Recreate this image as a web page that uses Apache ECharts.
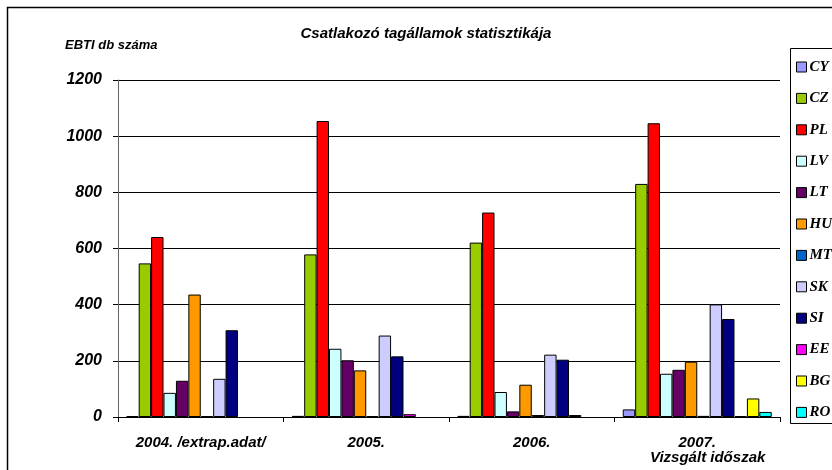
<!DOCTYPE html>
<html><head><meta charset="utf-8">
<script src="https://cdn.jsdelivr.net/npm/echarts@6/dist/echarts.min.js"></script>
<style>html,body{margin:0;padding:0;background:#fff}#c{width:832px;height:470px}</style>
</head><body><div id="c"></div>
<script>
const categories = ['2004. /extrap.adat/', '2005.', '2006.', '2007.'];
const seriesNames = ['CY','CZ','PL','LV','LT','HU','MT','SK','SI','EE','BG','RO'];
const CY = [3, 4, 4, 27];
const CZ = [547, 579, 621, 830];
const PL = [641, 1054, 728, 1046];
const LV = [86, 243, 89, 154];
const LT = [129, 202, 20, 168];
const HU = [436, 166, 115, 197];
const MT = [3, 3, 7, 4];
const SK = [136, 290, 222, 401];
const SI = [309, 216, 204, 349];
const EE = [0, 10, 7, 3];
const BG = [0, 0, 0, 66];
const RO = [0, 0, 0, 18];
const yTicks = [0, 200, 400, 600, 800, 1000, 1200];
const colors = ['#9999FF','#99CC00','#FF0000','#CCFFFF','#660066','#FF9900','#0066CC','#CCCCFF','#000080','#FF00FF','#FFFF00','#00FFFF'];
const values = [CY, CZ, PL, LV, LT, HU, MT, SK, SI, EE, BG, RO];

const sans = 'Liberation Sans';
const chart = echarts.init(document.getElementById('c'), null, {renderer: 'canvas'});
chart.setOption({
  animation: false,
  backgroundColor: '#fff',
  title: {
    text: 'Csatlakozó tagállamok statisztikája',
    left: 421, top: 21, textAlign: 'center',
    textStyle: {fontFamily: sans, fontSize: 15, fontWeight: 'bold', fontStyle: 'italic', color: '#000'}
  },
  legend: {
    orient: 'vertical', left: 791, top: 54,
    itemWidth: 10, itemHeight: 10, itemGap: 15.4,
    icon: 'rect',
    itemStyle: {borderColor: '#000', borderWidth: 1},
    textStyle: {fontFamily: 'Liberation Serif', fontSize: 15, fontWeight: 'bold', fontStyle: 'italic', color: '#000', lineHeight: 16, padding: [0, 0, 0, -2]},
    data: seriesNames
  },
  grid: {left: 118, right: 52, top: 80, bottom: 53, containLabel: false},
  xAxis: {
    type: 'category', data: categories,
    axisLine: {lineStyle: {color: '#000', width: 1}},
    axisTick: {show: true, length: 5, lineStyle: {color: '#000'}},
    axisLabel: {interval: 0, margin: 18, fontFamily: sans, fontSize: 15, fontWeight: 'bold', fontStyle: 'italic', color: '#000'}
  },
  yAxis: {
    type: 'value', min: yTicks[0], max: yTicks[yTicks.length - 1], interval: 200,
    name: 'EBTI db száma', nameLocation: 'end', nameGap: 0,
    nameTextStyle: {fontFamily: sans, fontSize: 13, fontWeight: 'bold', fontStyle: 'italic', color: '#000', align: 'left', padding: [0, 0, 28, -53]},
    axisLine: {show: true, lineStyle: {color: '#666', width: 1}},
    axisTick: {show: true, length: 5, lineStyle: {color: '#000'}},
    axisLabel: {margin: 16, fontFamily: sans, fontSize: 16, fontWeight: 'bold', fontStyle: 'italic', color: '#000', formatter: v => String(v)},
    splitLine: {show: true, lineStyle: {color: '#000', width: 1}}
  },
  graphic: [
    {type: 'rect', silent: true, shape: {x: 7.5, y: 7.5, width: 900, height: 500}, style: {fill: 'none', stroke: '#000', lineWidth: 1.5}, z: -10},
    {type: 'rect', silent: true, shape: {x: 790.5, y: 48.5, width: 100, height: 375}, style: {fill: 'none', stroke: '#000', lineWidth: 1}, z: -10},
    {type: 'text', left: 650, top: 450, style: {text: 'Vizsgált időszak', fontFamily: sans, fontSize: 15, fontWeight: 'bold', fontStyle: 'italic', fill: '#000'}}
  ],
  series: seriesNames.map((n, i) => ({
    name: n, type: 'bar', data: values[i].map(v => v === 0 ? '-' : v),
    barGap: '0%', barCategoryGap: '10%',
    itemStyle: {color: colors[i], borderColor: '#000', borderWidth: 1}
  }))
});
</script></body></html>
